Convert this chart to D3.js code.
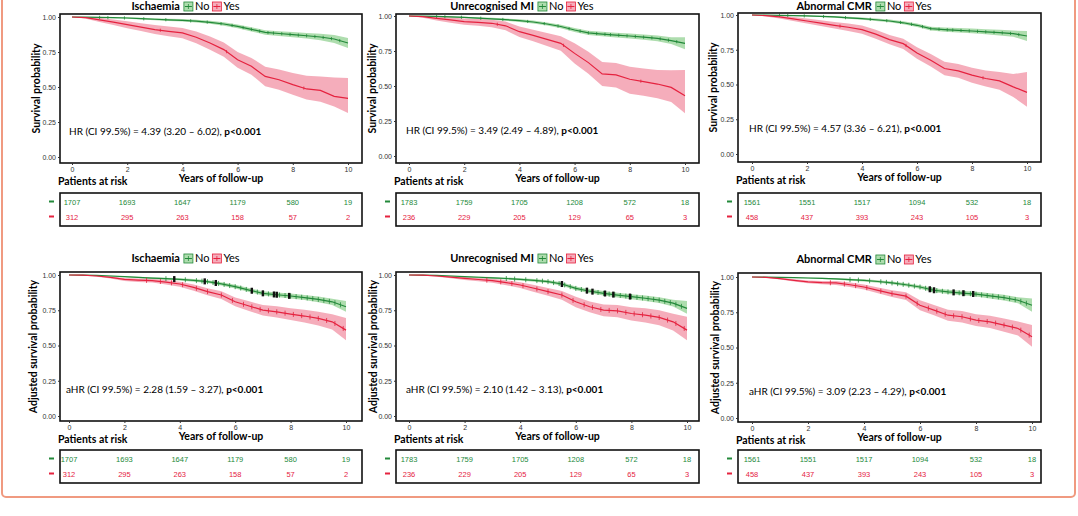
<!DOCTYPE html>
<html>
<head>
<meta charset="utf-8">
<script src="https://cdn.jsdelivr.net/npm/d3@7"></script>
<style>
  body { margin: 0; background: #fff; }
  svg { display: block; }
</style>
</head>
<body>
<svg id="chart" width="1078" height="516"></svg>
<script>
// time grid (years) shared by all curves
const years = [0, 0.5, 1, 1.5, 2, 2.5, 3, 3.5, 4, 4.5, 5, 5.5, 6, 6.5, 7, 7.5, 8, 8.5, 9, 9.5, 10];
const riskTimes = [0, 2, 4, 6, 8, 10];

// each row: [survival, lower CI, upper CI]
const ischNo = [[1,1,1],[0.999,0.997,1],[0.997,0.994,1],[0.995,0.991,0.999],[0.993,0.988,0.998],[0.988,0.982,0.994],[0.984,0.977,0.991],[0.98,0.972,0.988],[0.976,0.967,0.985],[0.97,0.96,0.98],[0.962,0.951,0.973],[0.95,0.938,0.962],[0.933,0.919,0.947],[0.912,0.897,0.927],[0.89,0.874,0.906],[0.882,0.865,0.899],[0.874,0.856,0.892],[0.866,0.846,0.886],[0.857,0.834,0.88],[0.843,0.815,0.871],[0.814,0.778,0.85]];
const ischYes = [[1,1,1],[0.995,0.988,1],[0.98,0.965,0.995],[0.963,0.943,0.983],[0.945,0.92,0.97],[0.928,0.9,0.956],[0.91,0.878,0.942],[0.898,0.863,0.932],[0.886,0.848,0.922],[0.855,0.812,0.897],[0.814,0.766,0.861],[0.767,0.716,0.818],[0.695,0.638,0.75],[0.648,0.588,0.708],[0.576,0.506,0.645],[0.552,0.48,0.625],[0.517,0.445,0.6],[0.486,0.41,0.58],[0.476,0.395,0.575],[0.433,0.36,0.567],[0.419,0.314,0.564]];
const miNo = [[1,1,1],[0.999,0.997,1],[0.997,0.994,1],[0.994,0.99,0.998],[0.99,0.985,0.995],[0.985,0.979,0.991],[0.98,0.973,0.987],[0.974,0.966,0.982],[0.967,0.958,0.976],[0.957,0.947,0.967],[0.943,0.932,0.954],[0.925,0.913,0.937],[0.9,0.886,0.914],[0.88,0.865,0.895],[0.871,0.855,0.887],[0.864,0.847,0.881],[0.857,0.839,0.875],[0.849,0.83,0.868],[0.84,0.819,0.861],[0.824,0.8,0.848],[0.805,0.762,0.848]];
const miYes = [[1,1,1],[0.995,0.988,1],[0.983,0.968,0.996],[0.972,0.952,0.99],[0.96,0.937,0.982],[0.955,0.93,0.978],[0.948,0.92,0.974],[0.93,0.898,0.96],[0.888,0.85,0.925],[0.862,0.82,0.902],[0.833,0.785,0.878],[0.805,0.752,0.855],[0.733,0.66,0.805],[0.667,0.588,0.745],[0.586,0.5,0.672],[0.579,0.49,0.665],[0.548,0.445,0.638],[0.531,0.43,0.625],[0.514,0.412,0.614],[0.49,0.385,0.612],[0.431,0.305,0.614]];
const cmrNo = [[1,1,1],[1,0.999,1],[0.998,0.996,1],[0.996,0.993,0.999],[0.993,0.989,0.997],[0.99,0.985,0.995],[0.986,0.98,0.992],[0.98,0.973,0.987],[0.974,0.966,0.982],[0.966,0.957,0.975],[0.957,0.947,0.967],[0.944,0.933,0.955],[0.926,0.913,0.939],[0.902,0.888,0.916],[0.895,0.88,0.91],[0.89,0.874,0.906],[0.885,0.868,0.902],[0.879,0.861,0.897],[0.873,0.853,0.893],[0.866,0.844,0.888],[0.849,0.813,0.885]];
const cmrYes = [[1,1,1],[0.996,0.99,1],[0.986,0.975,0.995],[0.972,0.957,0.985],[0.957,0.938,0.974],[0.942,0.92,0.962],[0.926,0.902,0.949],[0.912,0.885,0.938],[0.895,0.866,0.924],[0.862,0.83,0.893],[0.823,0.789,0.856],[0.794,0.756,0.83],[0.727,0.685,0.768],[0.675,0.63,0.72],[0.615,0.567,0.663],[0.598,0.548,0.648],[0.567,0.513,0.62],[0.543,0.485,0.6],[0.526,0.462,0.59],[0.483,0.41,0.575],[0.443,0.34,0.59]];

// adjusted curves
const ischAdjNo = [[1,1,1],[0.999,0.998,1],[0.997,0.995,0.999],[0.993,0.99,0.996],[0.988,0.984,0.992],[0.983,0.978,0.988],[0.978,0.972,0.984],[0.974,0.967,0.981],[0.969,0.961,0.977],[0.962,0.953,0.971],[0.953,0.943,0.963],[0.937,0.926,0.948],[0.917,0.904,0.93],[0.893,0.879,0.907],[0.87,0.855,0.885],[0.86,0.844,0.876],[0.851,0.834,0.868],[0.84,0.822,0.858],[0.827,0.807,0.847],[0.81,0.788,0.832],[0.775,0.739,0.815]];
const ischAdjYes = [[1,1,1],[0.999,0.997,1],[0.993,0.988,0.997],[0.983,0.975,0.99],[0.969,0.958,0.978],[0.964,0.951,0.975],[0.96,0.946,0.972],[0.95,0.933,0.965],[0.936,0.916,0.953],[0.912,0.889,0.933],[0.882,0.856,0.906],[0.858,0.83,0.884],[0.81,0.778,0.84],[0.78,0.745,0.813],[0.751,0.713,0.787],[0.739,0.698,0.778],[0.723,0.68,0.765],[0.709,0.663,0.754],[0.692,0.642,0.74],[0.668,0.613,0.721],[0.609,0.538,0.695]];
const miAdjNo = [[1,1,1],[0.999,0.998,1],[0.997,0.995,0.999],[0.993,0.99,0.996],[0.988,0.984,0.992],[0.984,0.979,0.989],[0.979,0.973,0.985],[0.975,0.968,0.982],[0.969,0.961,0.977],[0.962,0.953,0.971],[0.953,0.943,0.963],[0.936,0.924,0.948],[0.905,0.891,0.919],[0.885,0.87,0.9],[0.87,0.854,0.886],[0.857,0.84,0.874],[0.846,0.828,0.864],[0.835,0.816,0.854],[0.822,0.801,0.843],[0.8,0.776,0.824],[0.763,0.725,0.815]];
const miAdjYes = [[1,1,1],[0.999,0.997,1],[0.993,0.988,0.997],[0.985,0.977,0.992],[0.976,0.965,0.985],[0.968,0.955,0.979],[0.96,0.945,0.973],[0.946,0.928,0.962],[0.929,0.907,0.948],[0.906,0.88,0.929],[0.882,0.852,0.908],[0.858,0.825,0.887],[0.81,0.772,0.845],[0.775,0.735,0.812],[0.751,0.708,0.79],[0.746,0.7,0.787],[0.727,0.678,0.772],[0.716,0.664,0.764],[0.699,0.643,0.75],[0.668,0.607,0.725],[0.609,0.538,0.704]];
const cmrAdjNo = [[1,1,1],[0.999,0.998,1],[0.998,0.996,1],[0.996,0.993,0.999],[0.993,0.989,0.997],[0.99,0.985,0.995],[0.986,0.98,0.992],[0.981,0.974,0.988],[0.976,0.968,0.984],[0.968,0.959,0.977],[0.958,0.948,0.968],[0.945,0.934,0.956],[0.929,0.916,0.942],[0.906,0.892,0.92],[0.894,0.879,0.909],[0.886,0.87,0.902],[0.878,0.861,0.895],[0.866,0.848,0.884],[0.854,0.834,0.874],[0.835,0.813,0.857],[0.8,0.753,0.847]];
const cmrAdjYes = [[1,1,1],[0.998,0.995,1],[0.988,0.982,0.994],[0.976,0.968,0.984],[0.965,0.955,0.975],[0.96,0.948,0.972],[0.958,0.944,0.971],[0.945,0.929,0.961],[0.929,0.911,0.947],[0.905,0.884,0.926],[0.882,0.858,0.906],[0.864,0.837,0.891],[0.8,0.765,0.835],[0.765,0.728,0.802],[0.729,0.69,0.768],[0.718,0.678,0.758],[0.694,0.652,0.736],[0.682,0.638,0.726],[0.659,0.612,0.706],[0.635,0.585,0.685],[0.576,0.506,0.659]];

// numbers at risk
const ischRiskNo = [1707, 1693, 1647, 1179, 580, 19];
const ischRiskYes = [312, 295, 263, 158, 57, 2];
const miRiskNo = [1783, 1759, 1705, 1208, 572, 18];
const miRiskYes = [236, 229, 205, 129, 65, 3];
const cmrRiskNo = [1561, 1551, 1517, 1094, 532, 18];
const cmrRiskYes = [458, 437, 393, 243, 105, 3];

// censoring marks (years)
const censorTopNo = [1.0, 1.3, 1.9, 2.6, 3.4, 4.3, 4.9, 5.4, 5.8, 6.2, 6.5, 6.8, 7.1, 7.3, 7.6, 7.9, 8.2, 8.5, 8.8, 9.1, 9.4, 9.7];
const censorTopYes = [3.2, 5.6, 8.4];
const censorAdjNo = [3.5, 3.8, 4.2, 4.6, 4.8, 5.0, 5.2, 5.4, 5.6, 5.8, 6.0, 6.2, 6.4, 6.6, 6.8, 7.0, 7.2, 7.4, 7.6, 7.8, 8.0, 8.2, 8.4, 8.6, 8.8, 9.0, 9.2, 9.4, 9.6, 9.8];
const censorAdjYes = [2.8, 3.3, 3.7, 4.1, 4.6, 5.0, 5.5, 5.9, 6.3, 6.6, 6.9, 7.2, 7.5, 7.8, 8.1, 8.4, 8.7, 9.0, 9.3, 9.6, 9.9];
const ischBlack = [3.8, 4.9, 5.3, 6.6, 7.0, 7.4, 7.5, 7.95];
const miBlack = [5.5, 6.4, 6.6, 7.05, 7.35, 7.95];
const cmrBlack = [6.35, 6.5, 7.2, 7.55, 7.9];

const titles = ["Ischaemia", "Unrecognised MI", "Abnormal CMR"];
const hrTop = ["4.39 (3.20 – 6.02)", "3.49 (2.49 – 4.89)", "4.57 (3.36 – 6.21)"];
const hrAdj = ["2.28 (1.59 – 3.27)", "2.10 (1.42 – 3.13)", "3.09 (2.23 – 4.29)"];
const yTicks = [0, 0.25, 0.5, 0.75, 1];

const green = "#23893a", red = "#e5223f";
const greenFill = "#5dbb5d", redFill = "#ec5b78";

const svg = d3.select("#chart");

// outer frame
svg.append("rect")
  .attr("x", 2).attr("y", -10).attr("width", 1073).attr("height", 507)
  .attr("rx", 4)
  .attr("fill", "none").attr("stroke", "#f09a80").attr("stroke-width", 2);

const panels = [
  { col: 0, adj: false, no: ischNo, yes: ischYes, rNo: ischRiskNo, rYes: ischRiskYes,
    box: [60, 14, 362, 163], x0: 72, x10: 348, y1: 17, y0: 157, ylx: 37, tab: 193 },
  { col: 1, adj: false, no: miNo, yes: miYes, rNo: miRiskNo, rYes: miRiskYes,
    box: [396, 14, 699, 163], x0: 409, x10: 685, y1: 16, y0: 156, ylx: 373, tab: 193 },
  { col: 2, adj: false, no: cmrNo, yes: cmrYes, rNo: cmrRiskNo, rYes: cmrRiskYes,
    box: [738, 13, 1041, 162], x0: 752, x10: 1027, y1: 15, y0: 154, ylx: 714, tab: 193 },
  { col: 0, adj: true, no: ischAdjNo, yes: ischAdjYes, rNo: ischRiskNo, rYes: ischRiskYes, black: ischBlack,
    box: [60, 272, 362, 421], x0: 69, x10: 346, y1: 275, y0: 416, ylx: 34, tab: 450 },
  { col: 1, adj: true, no: miAdjNo, yes: miAdjYes, rNo: miRiskNo, rYes: miRiskYes, black: miBlack,
    box: [396, 272, 699, 421], x0: 409, x10: 687, y1: 275, y0: 416, ylx: 374, tab: 450 },
  { col: 2, adj: true, no: cmrAdjNo, yes: cmrAdjYes, rNo: cmrRiskNo, rYes: cmrRiskYes, black: cmrBlack,
    box: [738, 273, 1041, 422], x0: 752, x10: 1032, y1: 277, y0: 418, ylx: 716, tab: 450 }
];

panels.forEach(drawPanel);

function valueAt(series, t) {
  const i = Math.min(d3.bisectRight(years, t) - 1, years.length - 2);
  const f = (t - years[i]) / (years[i + 1] - years[i]);
  return series[i][0] + f * (series[i + 1][0] - series[i][0]);
}

function drawPanel(p) {
  const [bl, bt, br, bb] = p.box;
  const g = svg.append("g");
  const x = d3.scaleLinear().domain([0, 10]).range([p.x0, p.x10]);
  const y = d3.scaleLinear().domain([0, 1]).range([p.y0, p.y1]);

  const area = d3.area()
    .x((d, i) => x(years[i]))
    .y0(d => y(d[1]))
    .y1(d => y(d[2]));
  const line = d3.line()
    .x((d, i) => x(years[i]))
    .y(d => y(d[0]));

  const groups = [
    { s: p.no, c: green, f: greenFill, cens: p.adj ? censorAdjNo : censorTopNo },
    { s: p.yes, c: red, f: redFill, cens: p.adj ? censorAdjYes : censorTopYes }
  ];

  groups.forEach(gr => {
    g.append("path").attr("d", area(gr.s))
      .attr("fill", gr.f).attr("fill-opacity", 0.5);
  });
  groups.forEach(gr => {
    g.append("path").attr("d", line(gr.s))
      .attr("fill", "none").attr("stroke", gr.c).attr("stroke-width", 1.2);
    const h = p.adj ? 2.5 : 1.6;
    g.selectAll(null).data(gr.cens).enter().append("line")
      .attr("x1", d => x(d)).attr("x2", d => x(d))
      .attr("y1", d => y(valueAt(gr.s, d)) - h)
      .attr("y2", d => y(valueAt(gr.s, d)) + h)
      .attr("stroke", gr.c).attr("stroke-width", 0.8);
  });
  if (p.black) {
    g.selectAll(null).data(p.black).enter().append("rect")
      .attr("x", d => x(d) - 1.2).attr("width", 2.4)
      .attr("y", d => y(valueAt(p.no, d)) - 3).attr("height", 6)
      .attr("fill", "#111");
  }

  // plot frame
  g.append("rect").attr("x", bl).attr("y", bt)
    .attr("width", br - bl).attr("height", bb - bt)
    .attr("fill", "none").attr("stroke", "#111").attr("stroke-width", 1.6);

  // axes
  const yAxis = g.append("g").attr("transform", `translate(${bl},0)`)
    .call(d3.axisLeft(y).tickValues(yTicks).tickFormat(d3.format(".2f")).tickSize(2).tickPadding(2));
  const xAxis = g.append("g").attr("transform", `translate(0,${bb})`)
    .call(d3.axisBottom(x).tickValues(riskTimes).tickSize(2).tickPadding(2));
  [yAxis, xAxis].forEach(a => {
    a.select(".domain").remove();
    a.selectAll("text").attr("font-family", "Liberation Sans, Arial, sans-serif")
      .attr("font-size", 7).attr("fill", "#333");
    a.selectAll("line").attr("stroke", "#333");
  });

  // titles
  g.append("text")
    .attr("transform", `translate(${p.ylx},${(bt + bb) / 2}) rotate(-90)`)
    .attr("text-anchor", "middle").attr("dominant-baseline", "middle")
    .attr("font-family", "Lato, sans-serif").attr("font-weight", "bold").attr("font-size", 10.5)
    .text(p.adj ? "Adjusted survival probability" : "Survival probability");

  g.append("text").attr("x", (bl + br) / 2 + 10).attr("y", bb + 19)
    .attr("text-anchor", "middle")
    .attr("font-family", "Lato, sans-serif").attr("font-weight", "bold").attr("font-size", 10.5)
    .text("Years of follow-up");

  g.append("text").attr("x", bl - 2).attr("y", bb + 22)
    .attr("font-family", "Lato, sans-serif").attr("font-weight", "bold").attr("font-size", 10.5)
    .text("Patients at risk");

  // hazard ratio
  const hr = g.append("text").attr("x", p.x0 - 3).attr("y", y(0.16))
    .attr("font-family", "Lato, sans-serif").attr("font-size", 10);
  hr.append("tspan").text((p.adj ? "aHR" : "HR") + " (CI 99.5%) = " + (p.adj ? hrAdj : hrTop)[p.col] + ", ");
  hr.append("tspan").attr("font-weight", "bold").text("p<0.001");

  // title + legend
  const lg = g.append("g");
  let cx = 0;
  const t = lg.append("text").attr("x", cx).attr("y", 0)
    .attr("font-family", "Lato, sans-serif").attr("font-weight", "bold").attr("font-size", 11)
    .text(titles[p.col]);
  cx += t.node().getComputedTextLength() + 4;
  [["No", green, greenFill], ["Yes", red, redFill]].forEach(([lab, c, f]) => {
    lg.append("rect").attr("x", cx).attr("y", -8).attr("width", 9).attr("height", 9)
      .attr("fill", f).attr("fill-opacity", 0.5).attr("stroke", c).attr("stroke-width", 0.8);
    lg.append("line").attr("x1", cx + 1).attr("x2", cx + 8).attr("y1", -3.5).attr("y2", -3.5)
      .attr("stroke", c).attr("stroke-width", 1);
    lg.append("line").attr("x1", cx + 4.5).attr("x2", cx + 4.5).attr("y1", -6).attr("y2", -1)
      .attr("stroke", c).attr("stroke-width", 0.8);
    cx += 11;
    const lt = lg.append("text").attr("x", cx).attr("y", 0)
      .attr("font-family", "Lato, sans-serif").attr("font-size", 11).text(lab);
    cx += lt.node().getComputedTextLength() + 3;
  });
  const center = (bl + br) / 2 - 24;
  // top-row titles sit just inside the page so they are readable
  const ty = p.adj ? bt - 10 : 10;
  lg.attr("transform", `translate(${center - cx / 2},${ty})`);

  // risk table
  const tt = p.tab;
  g.append("rect").attr("x", bl).attr("y", tt).attr("width", br - bl).attr("height", 33)
    .attr("fill", "none").attr("stroke", "#111").attr("stroke-width", 1.6);
  [[p.rNo, green, 12], [p.rYes, red, 27]].forEach(([vals, c, dy]) => {
    g.append("rect").attr("x", bl - 11).attr("y", tt + dy - 4.5).attr("width", 5).attr("height", 2)
      .attr("fill", c);
    g.selectAll(null).data(vals).enter().append("text")
      .attr("x", (d, i) => x(riskTimes[i])).attr("y", tt + dy)
      .attr("text-anchor", "middle")
      .attr("font-family", "Liberation Sans, Arial, sans-serif").attr("font-size", 7.5)
      .attr("fill", c).text(d => d);
  });
}
</script>
</body>
</html>
